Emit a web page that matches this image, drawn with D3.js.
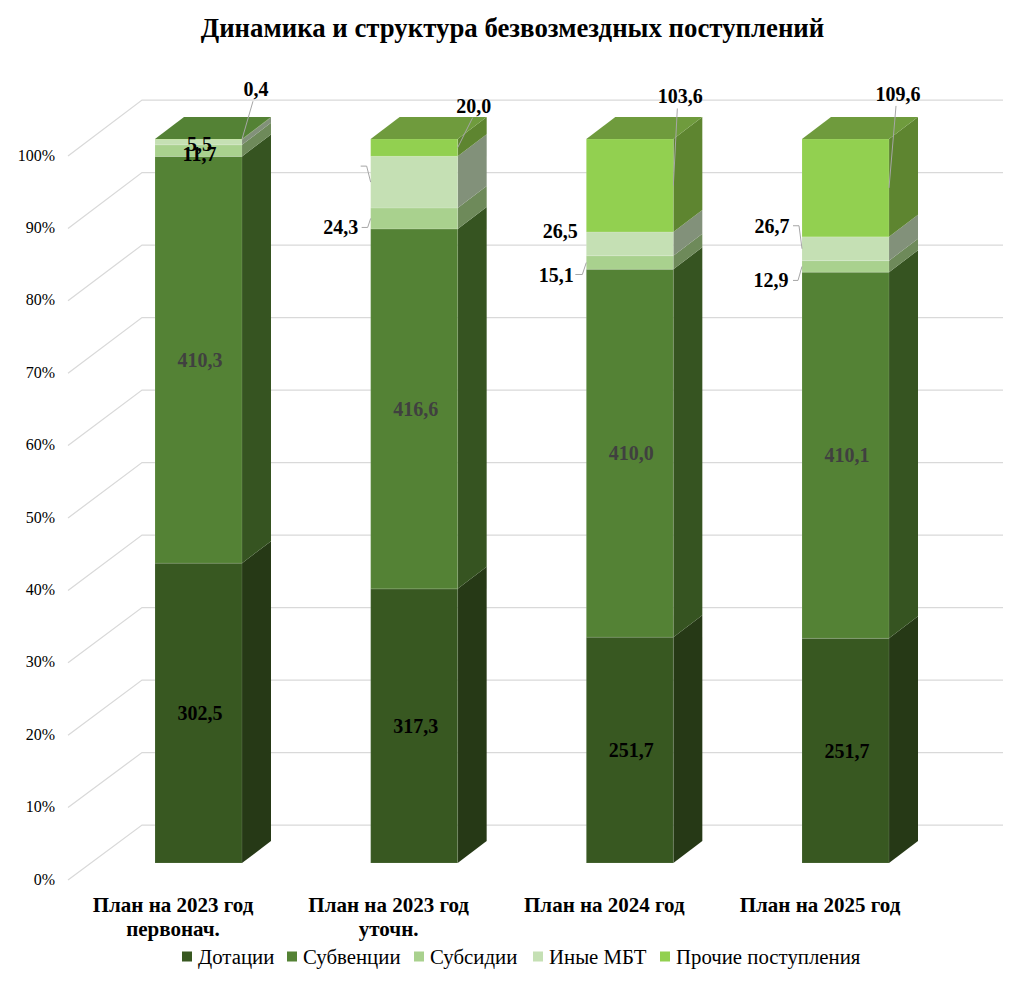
<!DOCTYPE html>
<html lang="ru">
<head>
  <meta charset="UTF-8">
  <title>Динамика и структура безвозмездных поступлений</title>
  <script src="https://d3js.org/d3.v7.min.js"></script>
  <style>
    html, body { margin: 0; padding: 0; background: #fff; }
    svg { display: block; }
    text { font-family: "Liberation Serif", "Times New Roman", serif; fill: #000; }
    .grid { fill: none; stroke: #d9d9d9; stroke-width: 1.25px; }
    .leader { fill: none; stroke: #a6a6a6; stroke-width: 1px; }
    .value { font-size: 20px; font-weight: bold; text-anchor: middle; }
    .cat { font-size: 21px; font-weight: bold; text-anchor: middle; }
    .tick text { font-size: 16px; font-family: "Liberation Serif", serif; }
    .legend text { font-size: 20.8px; }
  </style>
</head>
<body>
  <svg width="1025" height="989"></svg>
  <script>
    const categories = ["План на 2023 год первонач.", "План на 2023 год уточн.", "План на 2024 год", "План на 2025 год"];
    const seriesNames = ["Дотации", "Субвенции", "Субсидии", "Иные МБТ", "Прочие поступления"];

    const dotacii = [302.5, 317.3, 251.7, 251.7];
    const subvencii = [410.3, 416.6, 410.0, 410.1];
    const subsidii = [11.7, 24.3, 15.1, 12.9];
    const inyeMbt = [5.5, 59.8, 26.5, 26.7];   // 2nd one has no label in the picture, read from the height
    const prochie = [0.4, 20.0, 103.6, 109.6];

    const frontColors = ["#385821", "#548235", "#a9d18e", "#c5e0b4", "#92d050"];
    const sideColors = ["#263916", "#365421", "#6e8a5a", "#82917a", "#5e8530"];
    const topColors = ["#548235", "#6f9b3d", "#6f9b3d", "#6f9b3d"];
    const labelColors = ["#000", "#404040", "#000", "#000", "#000"];
    const yTicks = [0, .1, .2, .3, .4, .5, .6, .7, .8, .9, 1];

    const table = categories.map((c, i) => ({
      cat: c,
      [seriesNames[0]]: dotacii[i],
      [seriesNames[1]]: subvencii[i],
      [seriesNames[2]]: subsidii[i],
      [seriesNames[3]]: inyeMbt[i],
      [seriesNames[4]]: prochie[i]
    }));

    const svg = d3.select("svg");

    const stacked = d3.stack()
      .keys(seriesNames)
      .offset(d3.stackOffsetExpand)(table);

    const x = d3.scaleBand().domain(categories).range([155, 889]).paddingInner(0.5966).paddingOuter(0);
    const y = d3.scaleLinear().domain([0, 1]).range([863, 139]);      // front of the bars
    const yBack = d3.scaleLinear().domain([0, 1]).range([825, 100]);  // back wall
    const yWall = d3.scaleLinear().domain([0, 1]).range([880, 156]);  // front of the side wall

    const depthX = 29, depthY = -22;

    svg.append("text")
      .attr("x", 512.5).attr("y", 37)
      .attr("text-anchor", "middle")
      .style("font-size", "26.8px").style("font-weight", "bold")
      .text("Динамика и структура безвозмездных поступлений");

    // walls
    svg.append("g").selectAll("path")
      .data(yTicks)
      .join("path")
        .attr("class", "grid")
        .attr("d", d => `M68,${yWall(d)}L142,${yBack(d)}L1003,${yBack(d)}`);

    const axis = d3.axisLeft(d3.scaleLinear().domain([0, 1]).range([879, 155]))
      .tickValues(yTicks)
      .tickFormat(d3.format(".0%"))
      .tickSize(0);
    svg.append("g")
      .attr("transform", "translate(58,0)")
      .call(axis)
      .call(g => g.select(".domain").remove());

    // bars, left to right
    categories.forEach((cat, i) => {
      const g = svg.append("g");
      const x0 = x(cat), x1 = x0 + x.bandwidth();

      stacked.forEach((s, k) => {
        const top = y(s[i][1]), bottom = y(s[i][0]);
        g.append("path")
          .attr("d", `M${x1},${bottom}L${x1 + depthX},${bottom + depthY}L${x1 + depthX},${top + depthY}L${x1},${top}Z`)
          .attr("fill", sideColors[k]);
        g.append("rect")
          .attr("x", x0).attr("y", top)
          .attr("width", x.bandwidth()).attr("height", bottom - top)
          .attr("fill", frontColors[k])
          .attr("stroke", "#fff").attr("stroke-opacity", .12).attr("stroke-width", 1);
      });

      g.append("path")
        .attr("d", `M${x0},${y(1)}L${x0 + depthX},${y(1) + depthY}L${x1 + depthX},${y(1) + depthY}L${x1},${y(1)}Z`)
        .attr("fill", topColors[i]);
    });

    // value labels that sit in the middle of their segment
    const fmt = v => d3.format(".1f")(v).replace(".", ",");
    const midY = (k, i) => y((stacked[k][i][0] + stacked[k][i][1]) / 2);

    const inBar = [[0, 0], [0, 1], [0, 2], [0, 3], [1, 0], [1, 1], [1, 2], [1, 3]];
    inBar.forEach(([k, i]) => {
      svg.append("text").attr("class", "value")
        .attr("x", x(categories[i]) + x.bandwidth() / 2 + 1.5)
        .attr("y", midY(k, i) + 7)
        .style("fill", labelColors[k])
        .text(fmt(table[i][seriesNames[k]]));
    });
    [[2, 0, 10], [3, 0, 9]].forEach(([k, i, dy]) => {
      svg.append("text").attr("class", "value")
        .attr("x", x(categories[i]) + x.bandwidth() / 2 + 1)
        .attr("y", midY(k, i) + dy)
        .text(fmt(table[i][seriesNames[k]]));
    });

    // moved labels: offsets from the segment's edge, elbow is where the leader bends
    const callouts = [
      { i: 0, k: 4, side: 1, dx: 14, dy: -44, elbow: [11, -38] },
      { i: 1, k: 4, side: 1, dx: 16, dy: -36, elbow: [15, -30] },
      { i: 1, k: 3, side: 0, elbow: [-4, -16, -10, -16], nolabel: true },
      { i: 1, k: 2, side: 0, dx: -30, dy: 15, elbow: [-3, 9, -9, 9] },
      { i: 2, k: 4, side: 1, dx: 7, dy: -83, elbow: [4, -77] },
      { i: 2, k: 3, side: 0, dx: -26, dy: -7 },
      { i: 2, k: 2, side: 0, dx: -30, dy: 18, elbow: [-4, 12, -11, 12] },
      { i: 3, k: 4, side: 1, dx: 9, dy: -88, elbow: [7, -82] },
      { i: 3, k: 3, side: 0, dx: -30, dy: -17, elbow: [-3, -23, -9, -23] },
      { i: 3, k: 2, side: 0, dx: -31, dy: 20, elbow: [-4, 14, -9, 14] }
    ];
    callouts.forEach(c => {
      const ax = x(categories[c.i]) + (c.side ? x.bandwidth() : 0);
      const ay = midY(c.k, c.i);
      if (c.elbow) {
        const pts = [[ax, ay]];
        for (let n = 0; n < c.elbow.length; n += 2) pts.push([ax + c.elbow[n], ay + c.elbow[n + 1]]);
        svg.append("path").attr("class", "leader").attr("d", d3.line()(pts));
      }
      if (!c.nolabel) {
        svg.append("text").attr("class", "value")
          .attr("x", ax + c.dx).attr("y", ay + c.dy + 1)
          .text(fmt(table[c.i][seriesNames[c.k]]));
      }
    });

    // category labels, two lines where the original wraps
    const catLines = [["План на 2023 год", "первонач."], ["План на 2023 год", "уточн."], ["План на 2024 год"], ["План на 2025 год"]];
    categories.forEach((cat, i) => {
      const t = svg.append("text").attr("class", "cat")
        .attr("x", x(cat) + x.bandwidth() / 2 - 25.5).attr("y", 912);
      catLines[i].forEach((line, n) => {
        t.append("tspan").attr("x", x(cat) + x.bandwidth() / 2 - 25.5).attr("dy", n ? 24 : 0).text(line);
      });
    });

    // legend
    const legendX = [182, 287, 414, 533, 660];
    const legend = svg.append("g").attr("class", "legend");
    seriesNames.forEach((name, k) => {
      legend.append("rect")
        .attr("x", legendX[k]).attr("y", 951.5)
        .attr("width", 10).attr("height", 10)
        .attr("fill", frontColors[k]);
      legend.append("text")
        .attr("x", legendX[k] + 16).attr("y", 964)
        .text(name);
    });
  </script>
</body>
</html>
